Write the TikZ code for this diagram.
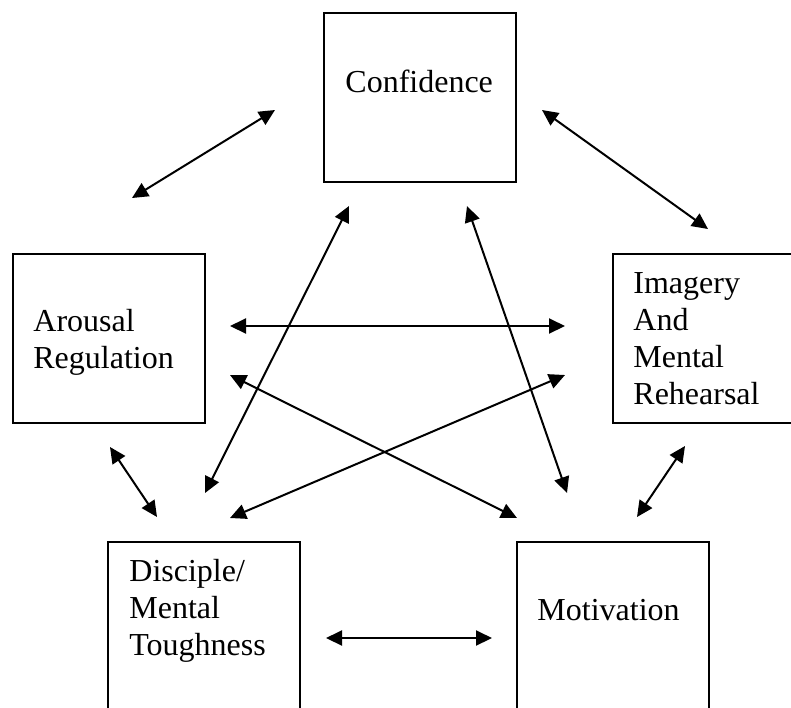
\documentclass[tikz,border=0pt]{standalone}
\usepackage{fontspec}
\setmainfont{Liberation Serif}
\usepackage{tikz}
\usetikzlibrary{arrows.meta}
\definecolor{skillInk}{RGB}{0, 0, 0}

\begin{document}
\begin{tikzpicture}[x=0.5pt, y=-0.5pt,
    skillBox/.style={draw=skillInk, line width=1pt, minimum width=96pt, minimum height=84.5pt, inner sep=0pt, outer sep=0pt},
    skillText/.style={anchor=base west, inner sep=0pt, align=left, font=\fontsize{16}{18.5}\selectfont},
    twoWay/.style={skillInk, line width=1pt, {Triangle[length=8pt,width=7.5pt]}-{Triangle[length=8pt,width=7.5pt]}}]
\useasboundingbox (0,0) rectangle (791,707);
\clip (0,0) rectangle (791,707);

% Skill boxes
\node[skillBox] (confidence) at (420,97.5) {};
\node[skillBox] (arousal) at (109,338) {};
\node[skillBox] (imagery) at (709,338) {};
\node[skillBox] (disciple) at (204,626.5) {};
\node[skillBox] (motivation) at (613,626.5) {};

% Box texts (base = last line)
\node[skillText] (confidenceText) at (345,92) {Confidence};
\node[skillText] (arousalText) at (33,368) {Arousal\\Regulation};
\node[skillText] (imageryText) at (633,404) {Imagery\\And\\Mental\\Rehearsal};
\node[skillText] (discipleText) at (129,655) {Disciple/\\Mental\\Toughness};
\node[skillText] (motivationText) at (537,620) {Motivation};

% Arrow ends
\coordinate (ca1) at (275,110);  \coordinate (ca2) at (132,198);
\coordinate (ci1) at (542,110);  \coordinate (ci2) at (708,229);
\coordinate (cd1) at (349,206);  \coordinate (cd2) at (205,493);
\coordinate (cm1) at (467,206);  \coordinate (cm2) at (567,493);
\coordinate (ai1) at (230,326);  \coordinate (ai2) at (565,326);
\coordinate (am1) at (230,375);  \coordinate (am2) at (517,518);
\coordinate (id1) at (565,375);  \coordinate (id2) at (230,518);
\coordinate (ad1) at (110,447);  \coordinate (ad2) at (157,517);
\coordinate (im1) at (685,446);  \coordinate (im2) at (637,517);
\coordinate (dm1) at (326,638);  \coordinate (dm2) at (492,638);

% Two-way links
\foreach \link in {ca, ci, cd, cm, ai, am, id, ad, im, dm} {
    \draw[twoWay] (\link1) -- (\link2);
}
\end{tikzpicture}
\end{document}
